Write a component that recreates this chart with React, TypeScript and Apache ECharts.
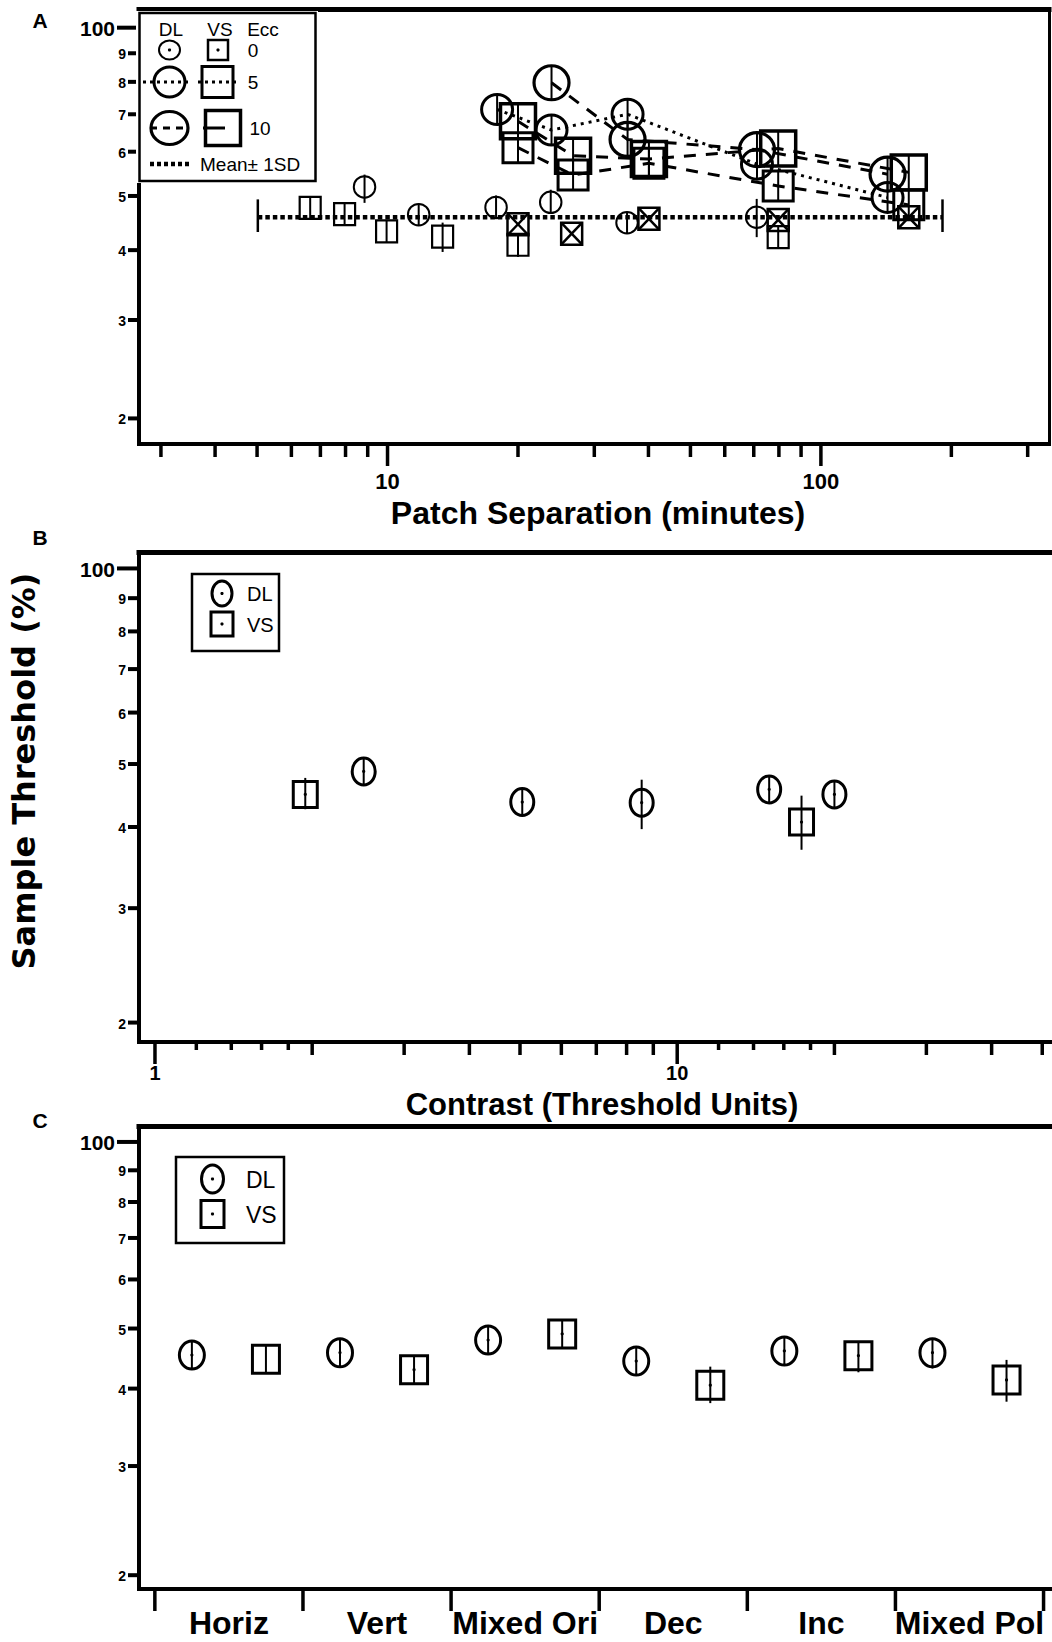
import React, { useEffect, useRef } from "react";
import * as echarts from "echarts";

const W = 1052;
const H = 1642;
const FONT = "'Liberation Sans', Arial, Helvetica, sans-serif";
const WIDE = "'DejaVu Sans', 'Liberation Sans', sans-serif";

// ---------------- Panel A : Patch separation ----------------
// Ecc 0, DL (small circles)
const A_DL0_X = [8.85, 11.8, 17.8, 23.8, 35.7, 71.1];
const A_DL0_Y = [51.9, 46.3, 47.7, 48.7, 44.8, 45.8];
const A_DL0_LO = [48.6, 44.3, 45.7, 46.5, 43.6, 42.2];
const A_DL0_HI = [54.6, 48.4, 50.1, 51.3, 46.1, 49.4];
// Ecc 0, VS (small squares)
const A_VS0_X = [6.63, 7.96, 9.95, 13.4, 20.0, 79.7];
const A_VS0_Y = [47.6, 46.4, 43.2, 42.3, 40.9, 42.2];
const A_VS0_LO = [46.4, 44.2, 42.0, 39.7, 38.9, 41.0];
const A_VS0_HI = [48.8, 47.6, 44.4, 44.8, 42.1, 43.4];
// Ecc 0, VS crossed squares
const A_VSX_X = [20.0, 26.6, 40.1, 79.7, 159.5];
const A_VSX_Y = [44.5, 42.8, 45.5, 45.3, 45.8];
// Ecc 5, DL (medium circles, dotted)
const A_DL5_X = [17.9, 23.9, 35.8, 71.2, 142.5];
const A_DL5_Y = [71.4, 65.6, 70.0, 57.0, 49.7];
const A_DL5_LO = [69.0, 63.5, 67.5, 54.8, 47.8];
const A_DL5_HI = [73.8, 67.8, 72.5, 59.3, 51.7];
// Ecc 10, DL (large circles, dashed)
const A_DL10_X = [23.9, 35.8, 71.2, 142.5];
const A_DL10_Y = [79.7, 63.1, 60.5, 54.7];
const A_DL10_LO = [77.0, 60.5, 54.3, 52.5];
const A_DL10_HI = [82.5, 66.0, 64.5, 57.0];
// Ecc 5, VS (medium squares)
const A_VS5_X = [20.0, 26.8, 40.1, 79.7, 159.5];
const A_VS5_Y = [61.0, 54.5, 57.2, 52.1, 48.2];
const A_VS5_LO = [58.8, 52.5, 55.0, 50.0, 46.3];
const A_VS5_HI = [63.3, 56.6, 59.5, 54.2, 50.2];
// Ecc 10, VS (large squares)
const A_VS10_X = [20.0, 26.8, 40.1, 79.7, 159.5];
const A_VS10_Y = [68.0, 59.0, 58.2, 60.8, 55.1];
const A_VS10_LO = [65.5, 56.8, 56.0, 58.5, 53.0];
const A_VS10_HI = [70.6, 61.3, 60.5, 63.2, 57.3];
// Mean ± 1SD
const MEAN_X = [5.02, 190.8];
const MEAN_Y = 45.8;
const MEAN_LO = 43.1;
const MEAN_HI = 49.3;

// ---------------- Panel B : Contrast ----------------
const B_DL_X = [2.51, 5.05, 8.55, 15.0, 20.0];
const B_DL_Y = [48.7, 43.7, 43.6, 45.7, 44.9];
const B_DL_LO = [46.8, 41.9, 39.7, 43.8, 43.0];
const B_DL_HI = [50.7, 45.6, 47.3, 47.7, 46.9];
const B_VS_X = [1.94, 17.3];
const B_VS_Y = [44.9, 40.7];
const B_VS_LO = [42.6, 36.9];
const B_VS_HI = [47.6, 44.7];

// ---------------- Panel C : Stimulus type ----------------
const C_CATS = ["Horiz", "Vert", "Mixed Ori", "Dec", "Inc", "Mixed Pol"];
const C_DL_Y = [45.3, 45.7, 47.9, 44.3, 46.0, 45.7];
const C_DL_LO = [43.5, 43.9, 46.0, 42.6, 44.2, 43.1];
const C_DL_HI = [47.2, 47.6, 49.9, 46.1, 47.9, 47.6];
const C_VS_Y = [44.6, 42.9, 49.0, 40.5, 45.2, 41.3];
const C_VS_LO = [42.9, 41.2, 46.4, 37.9, 42.5, 38.1];
const C_VS_HI = [46.4, 44.6, 51.3, 43.4, 47.1, 44.5];

// ---------------- Ticks ----------------
const Y_TICKS = [20, 30, 40, 50, 60, 70, 80, 90, 100];
const Y_TICK_LABELS = ["2", "3", "4", "5", "6", "7", "8", "9", "100"];
const Y_MAJOR = [100];
const A_X_TICKS = [3, 4, 5, 6, 7, 8, 9, 10, 20, 30, 40, 50, 60, 70, 80, 90, 100, 200, 300];
const A_X_MAJOR = [10, 100];
const A_X_LABELS = ["10", "100"];
const B_X_TICKS = [1, 1.2, 1.4, 1.6, 1.8, 2, 3, 4, 5, 6, 7, 8, 9, 10, 12, 14, 16, 18, 20, 30, 40, 50];
const B_X_MAJOR = [1, 10];
const B_X_SHORT = [1.2, 1.4, 1.6, 1.8, 12, 14, 16, 18];
const B_X_LABELS = ["1", "10"];

// axis ranges
const A_X_RANGE = [2.67, 336];
const A_Y_RANGE = [18.0, 108];
const B_X_RANGE = [0.932, 52.2];
const B_Y_RANGE = [18.67, 106];
const C_X_RANGE = [-0.107, 6.057];
const C_Y_RANGE = [19.0, 106.1];
const DL_OFF = 0.25;
const VS_OFF = 0.75;

function txtStyle(text: string, size: number, weight: string, align: string, family = FONT) {
  return {
    text,
    fill: "#000",
    fontSize: size,
    fontWeight: weight,
    fontFamily: family,
    align,
    verticalAlign: "middle",
    textAlign: align,
    textVerticalAlign: "middle",
  };
}

function T(text: string, x: number, y: number, size: number, opts: any = {}) {
  return {
    type: "text",
    x,
    y,
    z: 60,
    silent: true,
    rotation: opts.rotation || 0,
    style: txtStyle(text, size, opts.weight || "normal", opts.align || "center", opts.family || FONT),
  };
}

const zip4 = (xs: number[], ys: number[], lo: number[], hi: number[]) =>
  xs.map((x, i) => [x, ys[i], lo[i], hi[i]]);

function markerSeries(xi: number, yi: number, data: any[], kind: string, w: number, h: number, lw: number, dot = false) {
  return {
    type: "custom",
    xAxisIndex: xi,
    yAxisIndex: yi,
    silent: true,
    z: 10,
    data,
    renderItem: (_p: any, api: any) => {
      const x = api.value(0);
      const y = api.value(1);
      const lo = api.value(2);
      const hi = api.value(3);
      const p = api.coord([x, y]);
      const pl = api.coord([x, lo]);
      const ph = api.coord([x, hi]);
      const st = { stroke: "#000", fill: "none", lineWidth: lw };
      const children: any[] = [];
      if (kind === "circle") {
        children.push({ type: "ellipse", shape: { cx: p[0], cy: p[1], rx: w / 2, ry: h / 2 }, style: st });
      } else {
        children.push({ type: "rect", shape: { x: p[0] - w / 2, y: p[1] - h / 2, width: w, height: h }, style: st });
      }
      if (kind === "xbox") {
        children.push({ type: "line", shape: { x1: p[0] - w / 2, y1: p[1] - h / 2, x2: p[0] + w / 2, y2: p[1] + h / 2 }, style: { stroke: "#000", lineWidth: lw } });
        children.push({ type: "line", shape: { x1: p[0] + w / 2, y1: p[1] - h / 2, x2: p[0] - w / 2, y2: p[1] + h / 2 }, style: { stroke: "#000", lineWidth: lw } });
      } else {
        const top = Math.min(ph[1], p[1] - h / 2);
        const bot = Math.max(pl[1], p[1] + h / 2);
        children.push({ type: "line", shape: { x1: p[0], y1: top, x2: p[0], y2: bot }, style: { stroke: "#000", lineWidth: 2 } });
      }
      if (dot) {
        children.push({ type: "circle", shape: { cx: p[0], cy: p[1], r: 1.6 }, style: { fill: "#000" } });
      }
      return { type: "group", children };
    },
  };
}

function lineSeries(xs: number[], ys: number[], dash: any, width: number) {
  return {
    type: "line",
    xAxisIndex: 0,
    yAxisIndex: 0,
    data: xs.map((x, i) => [x, ys[i]]),
    symbol: "none",
    showSymbol: false,
    silent: true,
    z: 3,
    lineStyle: { color: "#000", width, type: dash },
  };
}

function yTicks(xi: number, yi: number, xMin: number) {
  return {
    type: "custom",
    xAxisIndex: xi,
    yAxisIndex: yi,
    silent: true,
    z: 20,
    data: Y_TICKS.map((v, i) => [xMin, v, i]),
    renderItem: (_p: any, api: any) => {
      const v = api.value(1);
      const i = api.value(2);
      const p = api.coord([xMin, v]);
      const major = Y_MAJOR.indexOf(v) >= 0;
      const len = major ? 20 : 9;
      const x0 = p[0] - 2;
      return {
        type: "group",
        children: [
          { type: "line", shape: { x1: x0 - len, y1: p[1], x2: x0, y2: p[1] }, style: { stroke: "#000", lineWidth: 4 } },
          { type: "text", x: x0 - len - 2, y: p[1] + 1, style: txtStyle(Y_TICK_LABELS[i], major ? 21 : 14, "bold", "right") },
        ],
      };
    },
  };
}

function xTicks(xi: number, yi: number, ticks: number[], majors: number[], shorts: number[], labels: string[], yMin: number, labelOff: number, labelSize: number) {
  return {
    type: "custom",
    xAxisIndex: xi,
    yAxisIndex: yi,
    silent: true,
    z: 20,
    data: ticks.map((v) => [v, yMin]),
    renderItem: (_p: any, api: any) => {
      const v = api.value(0);
      const p = api.coord([v, yMin]);
      const mi = majors.indexOf(v);
      const short = shorts.indexOf(v) >= 0;
      const len = mi >= 0 ? 20 : short ? 6 : 11;
      const children: any[] = [
        { type: "line", shape: { x1: p[0], y1: p[1] + 2, x2: p[0], y2: p[1] + 2 + len }, style: { stroke: "#000", lineWidth: 3.5 } },
      ];
      if (mi >= 0) {
        children.push({ type: "text", x: p[0], y: p[1] + labelOff, style: txtStyle(labels[mi], labelSize, "bold", "center") });
      }
      return { type: "group", children };
    },
  };
}

function catTicks(yMin: number) {
  const bounds = C_CATS.map((_c, i) => i).concat([C_CATS.length]);
  return {
    type: "custom",
    xAxisIndex: 4,
    yAxisIndex: 3,
    silent: true,
    z: 20,
    data: bounds.map((b) => [b, yMin]),
    renderItem: (_p: any, api: any) => {
      const p = api.coord([api.value(0), yMin]);
      return { type: "line", shape: { x1: p[0], y1: p[1] + 2, x2: p[0], y2: p[1] + 22 }, style: { stroke: "#000", lineWidth: 3.5 } };
    },
  };
}

function catLabels(yMin: number) {
  return {
    type: "custom",
    xAxisIndex: 4,
    yAxisIndex: 3,
    silent: true,
    z: 20,
    data: C_CATS.map((_c, i) => [i + 0.5, yMin, i]),
    renderItem: (_p: any, api: any) => {
      const i = api.value(2);
      const p = api.coord([api.value(0), yMin]);
      return { type: "text", x: p[0], y: p[1] + 34, style: txtStyle(C_CATS[i], 32, "bold", "center") };
    },
  };
}

const OFF = {
  axisTick: { show: false },
  axisLabel: { show: false },
  splitLine: { show: false },
  minorTick: { show: false },
  minorSplitLine: { show: false },
};
const AXLINE = (w: number) => ({ show: true, onZero: false, lineStyle: { color: "#000", width: w, cap: "square" } });

function legendGraphics() {
  const k = "#000";
  const g: any[] = [];
  // Panel A legend
  g.push({ type: "rect", z: 50, shape: { x: 136, y: 11, width: 182, height: 172 }, style: { fill: "#fff" } });
  g.push({ type: "rect", z: 51, shape: { x: 139.5, y: 13, width: 176, height: 168 }, style: { fill: "none", stroke: k, lineWidth: 2.5 } });
  g.push(T("DL", 171, 29, 19), T("VS", 220, 29, 19), T("Ecc", 263, 29, 19));
  g.push({ type: "ellipse", z: 55, shape: { cx: 169.5, cy: 50, rx: 10.5, ry: 9.5 }, style: { fill: "none", stroke: k, lineWidth: 2 } });
  g.push({ type: "circle", z: 55, shape: { cx: 169.5, cy: 50, r: 1.6 }, style: { fill: k } });
  g.push({ type: "rect", z: 55, shape: { x: 208, y: 40, width: 20, height: 20 }, style: { fill: "none", stroke: k, lineWidth: 2.5 } });
  g.push({ type: "circle", z: 55, shape: { cx: 218, cy: 50, r: 1.6 }, style: { fill: k } });
  g.push(T("0", 253, 50, 19));
  g.push({ type: "line", z: 55, shape: { x1: 143, y1: 82, x2: 191, y2: 82 }, style: { stroke: k, lineWidth: 3, lineDash: [3, 4] } });
  g.push({ type: "ellipse", z: 55, shape: { cx: 169.5, cy: 82, rx: 15.5, ry: 15 }, style: { fill: "none", stroke: k, lineWidth: 3 } });
  g.push({ type: "line", z: 55, shape: { x1: 198, y1: 82, x2: 238, y2: 82 }, style: { stroke: k, lineWidth: 3, lineDash: [3, 4] } });
  g.push({ type: "rect", z: 55, shape: { x: 202, y: 66.5, width: 31, height: 31 }, style: { fill: "none", stroke: k, lineWidth: 3 } });
  g.push(T("5", 253, 82, 19));
  g.push({ type: "line", z: 55, shape: { x1: 150, y1: 128, x2: 189, y2: 128 }, style: { stroke: k, lineWidth: 3, lineDash: [7, 6] } });
  g.push({ type: "ellipse", z: 55, shape: { cx: 169.5, cy: 128, rx: 18.5, ry: 16.5 }, style: { fill: "none", stroke: k, lineWidth: 3.2 } });
  g.push({ type: "line", z: 55, shape: { x1: 203, y1: 128, x2: 225, y2: 128 }, style: { stroke: k, lineWidth: 3 } });
  g.push({ type: "rect", z: 55, shape: { x: 205.5, y: 110.5, width: 35, height: 35 }, style: { fill: "none", stroke: k, lineWidth: 3.5 } });
  g.push(T("10", 260, 128, 19));
  g.push({ type: "line", z: 55, shape: { x1: 150, y1: 164, x2: 189, y2: 164 }, style: { stroke: k, lineWidth: 4.5, lineDash: [4, 3] } });
  g.push(T("Mean\u00b1 1SD", 200, 164, 19, { align: "left" }));

  // Panel B legend
  g.push({ type: "rect", z: 51, shape: { x: 192, y: 574, width: 87, height: 77 }, style: { fill: "#fff", stroke: k, lineWidth: 2.5 } });
  g.push({ type: "ellipse", z: 55, shape: { cx: 222, cy: 593.5, rx: 10, ry: 12.5 }, style: { fill: "none", stroke: k, lineWidth: 3 } });
  g.push({ type: "circle", z: 55, shape: { cx: 222, cy: 593.5, r: 1.6 }, style: { fill: k } });
  g.push(T("DL", 247, 594, 20, { align: "left" }));
  g.push({ type: "rect", z: 55, shape: { x: 211, y: 612, width: 22, height: 24 }, style: { fill: "none", stroke: k, lineWidth: 3 } });
  g.push({ type: "circle", z: 55, shape: { cx: 222, cy: 624, r: 1.6 }, style: { fill: k } });
  g.push(T("VS", 247, 625, 20, { align: "left" }));

  // Panel C legend
  g.push({ type: "rect", z: 51, shape: { x: 176, y: 1157, width: 108, height: 86 }, style: { fill: "#fff", stroke: k, lineWidth: 2.5 } });
  g.push({ type: "ellipse", z: 55, shape: { cx: 212.5, cy: 1179, rx: 11, ry: 14 }, style: { fill: "none", stroke: k, lineWidth: 3 } });
  g.push({ type: "circle", z: 55, shape: { cx: 212.5, cy: 1179, r: 1.6 }, style: { fill: k } });
  g.push(T("DL", 246, 1180, 23, { align: "left" }));
  g.push({ type: "rect", z: 55, shape: { x: 201, y: 1200.5, width: 23, height: 27 }, style: { fill: "none", stroke: k, lineWidth: 3 } });
  g.push({ type: "circle", z: 55, shape: { cx: 212.5, cy: 1214, r: 1.6 }, style: { fill: k } });
  g.push(T("VS", 246, 1215, 23, { align: "left" }));

  // Titles and panel letters
  g.push(T("A", 40, 20, 21, { weight: "bold" }));
  g.push(T("B", 40, 537, 21, { weight: "bold" }));
  g.push(T("C", 40, 1120, 21, { weight: "bold" }));
  g.push(T("Patch Separation (minutes)", 598, 513, 32, { weight: "bold" }));
  g.push(T("Contrast (Threshold Units)", 602, 1104, 31, { weight: "bold" }));
  g.push(T("Sample Threshold (%)", 24, 771, 32, { weight: "bold", rotation: Math.PI / 2, family: WIDE }));
  return g;
}

function buildOption() {
  const grid = [
    { left: 139, top: 9, width: 910, height: 435 },
    { left: 139, top: 552, width: 913, height: 490 },
    { left: 139, top: 1126, width: 913, height: 463 },
  ].map((g) => ({ ...g, show: false, containLabel: false, outerBoundsMode: "none" }));

  const xAxis = [
    { gridIndex: 0, type: "log", logBase: 10, min: A_X_RANGE[0], max: A_X_RANGE[1], position: "bottom", axisLine: AXLINE(4), ...OFF },
    { gridIndex: 0, type: "value", min: 0, max: 1, position: "top", axisLine: AXLINE(5), ...OFF },
    { gridIndex: 1, type: "log", logBase: 10, min: B_X_RANGE[0], max: B_X_RANGE[1], position: "bottom", axisLine: AXLINE(4), ...OFF },
    { gridIndex: 1, type: "value", min: 0, max: 1, position: "top", axisLine: AXLINE(5), ...OFF },
    { gridIndex: 2, type: "value", min: C_X_RANGE[0], max: C_X_RANGE[1], position: "bottom", axisLine: AXLINE(4), ...OFF },
    { gridIndex: 2, type: "value", min: 0, max: 1, position: "top", axisLine: AXLINE(5), ...OFF },
  ];
  const yAxis = [
    { gridIndex: 0, type: "log", logBase: 10, min: A_Y_RANGE[0], max: A_Y_RANGE[1], position: "left", axisLine: AXLINE(4), ...OFF },
    { gridIndex: 0, type: "value", min: 0, max: 1, position: "right", axisLine: AXLINE(3), ...OFF },
    { gridIndex: 1, type: "log", logBase: 10, min: B_Y_RANGE[0], max: B_Y_RANGE[1], position: "left", axisLine: AXLINE(4), ...OFF },
    { gridIndex: 2, type: "log", logBase: 10, min: C_Y_RANGE[0], max: C_Y_RANGE[1], position: "left", axisLine: AXLINE(4), ...OFF },
  ];

  const DOT = [3, 5];
  const DASH = [12, 10];

  const series: any[] = [
    // ticks
    yTicks(0, 0, A_X_RANGE[0]),
    yTicks(2, 2, B_X_RANGE[0]),
    yTicks(4, 3, C_X_RANGE[0]),
    xTicks(0, 0, A_X_TICKS, A_X_MAJOR, [], A_X_LABELS, A_Y_RANGE[0], 37, 22),
    xTicks(2, 2, B_X_TICKS, B_X_MAJOR, B_X_SHORT, B_X_LABELS, B_Y_RANGE[0], 31, 20),
    catTicks(C_Y_RANGE[0]),
    catLabels(C_Y_RANGE[0]),
    // Panel A connectors
    lineSeries(A_DL5_X, A_DL5_Y, DOT, 3),
    lineSeries(A_DL10_X, A_DL10_Y, DASH, 3),
    lineSeries(A_VS5_X, A_VS5_Y, DASH, 3),
    lineSeries(A_VS10_X, A_VS10_Y, DASH, 3),
    lineSeries(MEAN_X, [MEAN_Y, MEAN_Y], [4.5, 3], 4.5),
    {
      type: "custom",
      xAxisIndex: 0,
      yAxisIndex: 0,
      silent: true,
      z: 10,
      data: MEAN_X.map((x) => [x, MEAN_Y, MEAN_LO, MEAN_HI]),
      renderItem: (_p: any, api: any) => {
        const a = api.coord([api.value(0), api.value(2)]);
        const b = api.coord([api.value(0), api.value(3)]);
        return { type: "line", shape: { x1: a[0], y1: a[1], x2: b[0], y2: b[1] }, style: { stroke: "#000", lineWidth: 2.5 } };
      },
    },
    // Panel A markers
    markerSeries(0, 0, zip4(A_DL0_X, A_DL0_Y, A_DL0_LO, A_DL0_HI), "circle", 21.5, 21.5, 2),
    markerSeries(0, 0, zip4(A_VS0_X, A_VS0_Y, A_VS0_LO, A_VS0_HI), "square", 21, 22, 2.2),
    markerSeries(0, 0, zip4(A_VSX_X, A_VSX_Y, A_VSX_Y, A_VSX_Y), "xbox", 21, 22, 2.5),
    markerSeries(0, 0, zip4(A_DL5_X, A_DL5_Y, A_DL5_LO, A_DL5_HI), "circle", 31, 30, 3),
    markerSeries(0, 0, zip4(A_DL10_X, A_DL10_Y, A_DL10_LO, A_DL10_HI), "circle", 35, 34, 3.2),
    markerSeries(0, 0, zip4(A_VS5_X, A_VS5_Y, A_VS5_LO, A_VS5_HI), "square", 30, 30, 3),
    markerSeries(0, 0, zip4(A_VS10_X, A_VS10_Y, A_VS10_LO, A_VS10_HI), "square", 35, 35, 3.5),
    // Panel B markers
    markerSeries(2, 2, zip4(B_DL_X, B_DL_Y, B_DL_LO, B_DL_HI), "circle", 23, 27, 3, true),
    markerSeries(2, 2, zip4(B_VS_X, B_VS_Y, B_VS_LO, B_VS_HI), "square", 24, 26, 3, true),
    // Panel C markers
    markerSeries(4, 3, C_CATS.map((_c, i) => [i + DL_OFF, C_DL_Y[i], C_DL_LO[i], C_DL_HI[i]]), "circle", 25, 28, 3, true),
    markerSeries(4, 3, C_CATS.map((_c, i) => [i + VS_OFF, C_VS_Y[i], C_VS_LO[i], C_VS_HI[i]]), "square", 27, 28, 3, true),
  ];

  return {
    animation: false,
    backgroundColor: "#fff",
    grid,
    xAxis,
    yAxis,
    series,
    graphic: { elements: legendGraphics() },
  };
}

export default function App() {
  const ref = useRef<HTMLDivElement>(null);
  useEffect(() => {
    const el = ref.current;
    if (!el) return;
    const chart = echarts.init(el, null, { renderer: "svg" });
    chart.setOption(buildOption() as any);
    return () => chart.dispose();
  }, []);
  return (
    <div
      ref={ref}
      style={{ position: "absolute", left: 0, top: 0, width: W, height: H, background: "#fff" }}
    />
  );
}
